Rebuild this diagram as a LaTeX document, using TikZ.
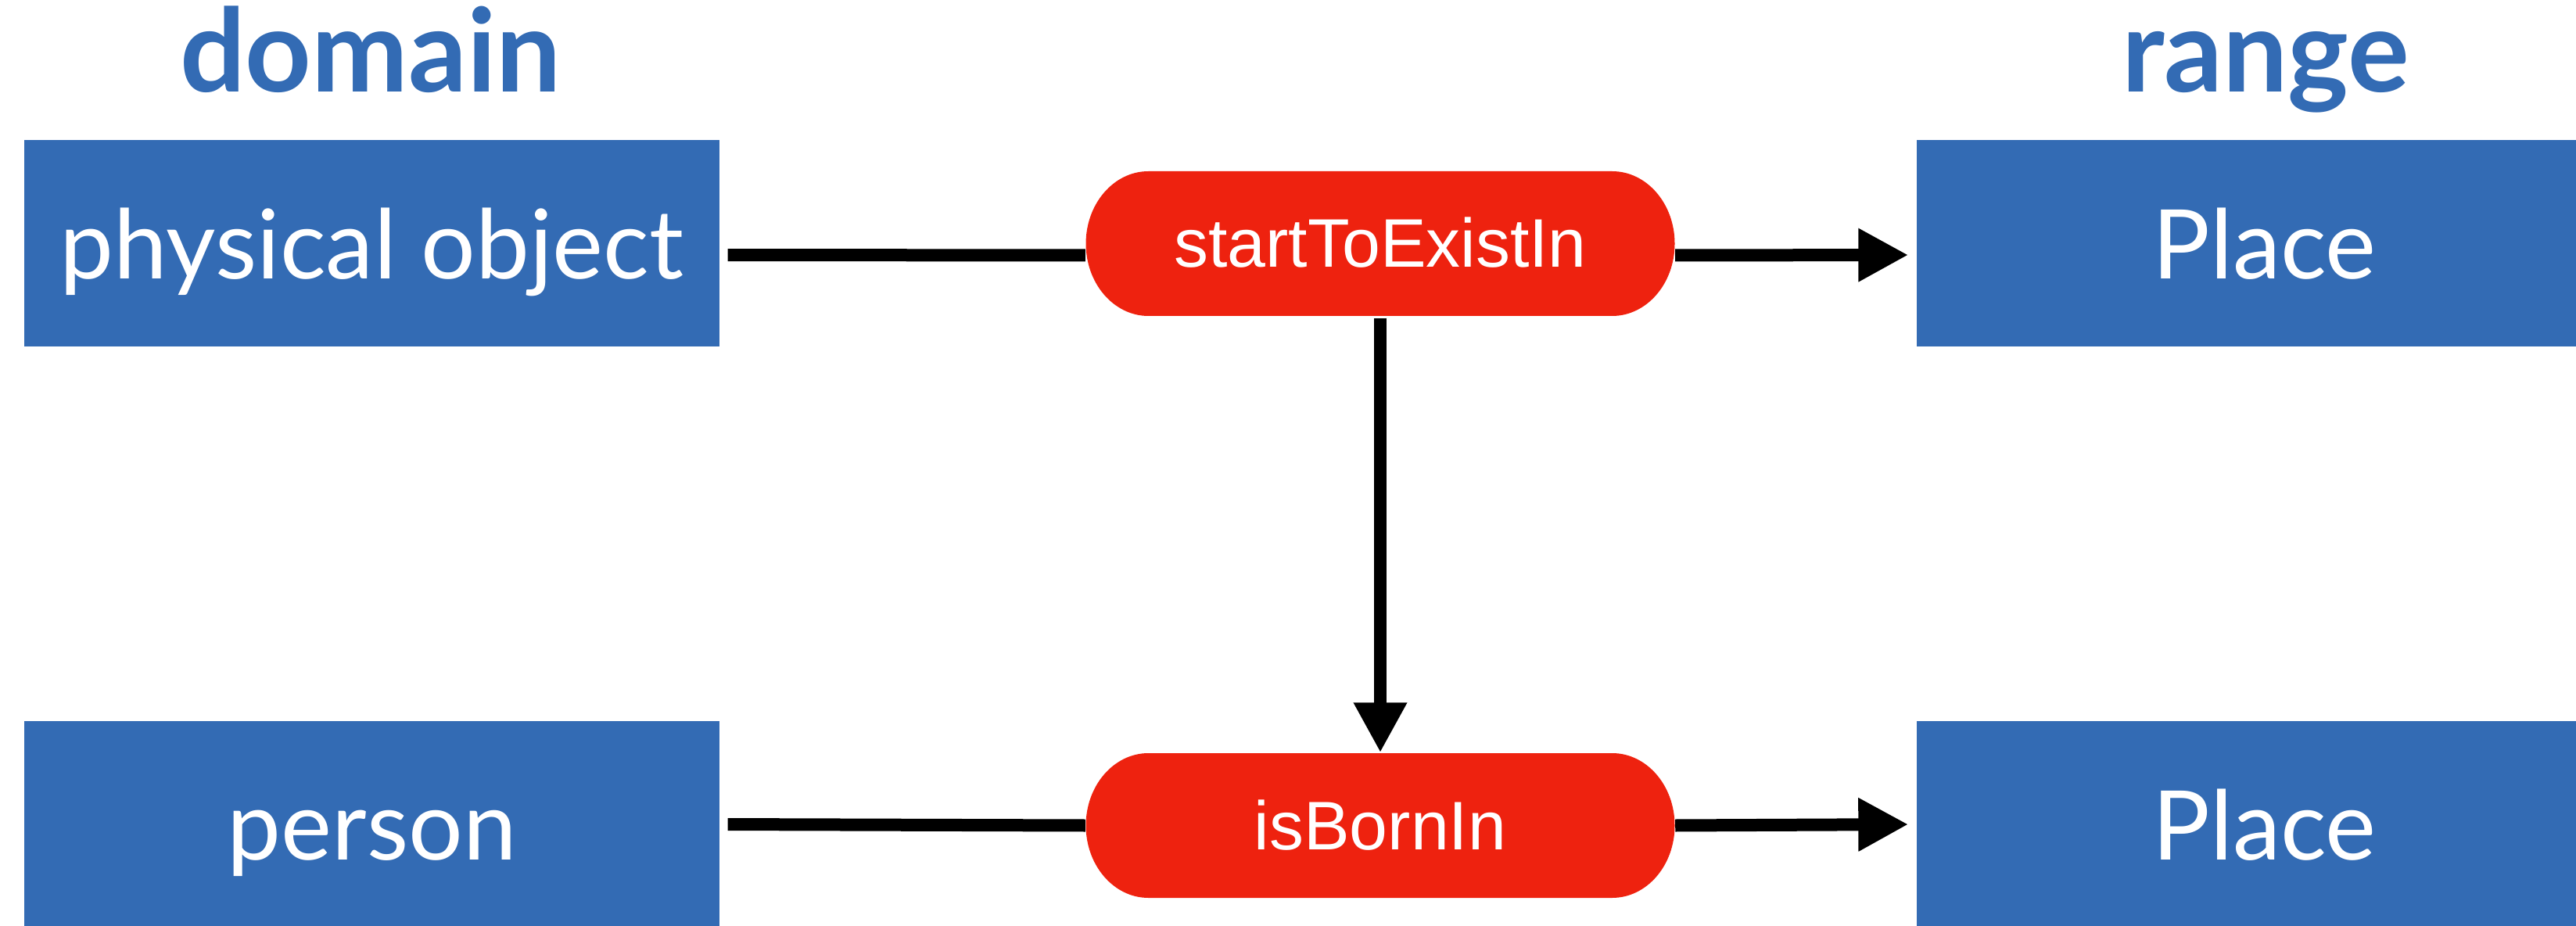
\documentclass[tikz,border=0pt]{standalone}
\usepackage{fontspec}
\setmainfont{Lato}
\newfontfamily\helv{Liberation Sans}
\usetikzlibrary{arrows.meta}
\definecolor{blu}{RGB}{51,107,180}
\definecolor{rosso}{RGB}{238,34,15}
\begin{document}
\begin{tikzpicture}[
			classe/.style={fill=blu, text=white, inner sep=0pt, minimum width=8.89cm, minimum height=2.64cm, text height=0.91cm, text depth=0pt, font=\fontsize{35}{40}\selectfont},
			proprieta/.style={text=white, inner sep=0pt, minimum width=7.53cm, minimum height=1.85cm, text height=0.61cm, text depth=0pt, font=\helv\fontsize{25}{28}\selectfont},
			titolo/.style={text=blu, anchor=base, font=\fontsize{42}{44}\selectfont\bfseries},
			linea/.style={line width=0.16cm, black},
			freccia/.style={line width=0.16cm, black, -{Triangle[length=0.64cm, width=0.64cm]}},
			]
			
			\newcommand{\capsula}[1]{%
				\begin{scope}[shift={(#1)}]
					\fill[rosso](-2.965,0.925)--(2.965,0.925)
					arc[start angle=90, end angle=-90, x radius=0.8, y radius=0.925]
					--(-2.965,-0.925)
					arc[start angle=270, end angle=90, x radius=0.8, y radius=0.925]--cycle;
			\end{scope}}
			
			\useasboundingbox (0,0) rectangle (32.94,11.83);
			
			%% =========================================================
			%% titoli delle colonne
			%% =========================================================
			\node[titolo] (dominio) at (4.74,10.65) {domain};
			\node[titolo] (codominio) at (28.97,10.65) {range};
			
			%% ---- classi (dominio a sinistra, codominio a destra) ----
			\node[classe] (oggetto) at (4.755,8.72) {physical object};
			\node[classe] (persona) at (4.755,1.29) {person};
			\node[classe] (luogoA) at (28.955,8.72) {Place};
			\node[classe] (luogoB) at (28.955,1.29) {Place};
			
			%% ---- proprieta' (capsule rosse) ----
			\capsula{17.65,8.715}
			\capsula{17.65,1.275}
			\node[proprieta] (inizio) at (17.65,8.715) {startToExistIn};
			\node[proprieta] (nascita) at (17.65,1.275) {isBornIn};
			
			%% ---- collegamenti ----
			\draw[linea, shorten <=0.1cm]([yshift=-0.15cm]oggetto.east)--([yshift=-0.15cm]inizio.west);
			\draw[freccia, shorten >=0.1cm]([yshift=-0.15cm]inizio.east)--([yshift=-0.15cm]luogoA.west);
			\draw[linea, shorten <=0.1cm](persona.east)--(nascita.west);
			\draw[freccia, shorten >=0.1cm](nascita.east)--(luogoB.west);
			%% sottoproprieta'
			\draw[freccia, shorten <=0.02cm](inizio.south)--(nascita.north);
			
	\end{tikzpicture}
\end{document}
